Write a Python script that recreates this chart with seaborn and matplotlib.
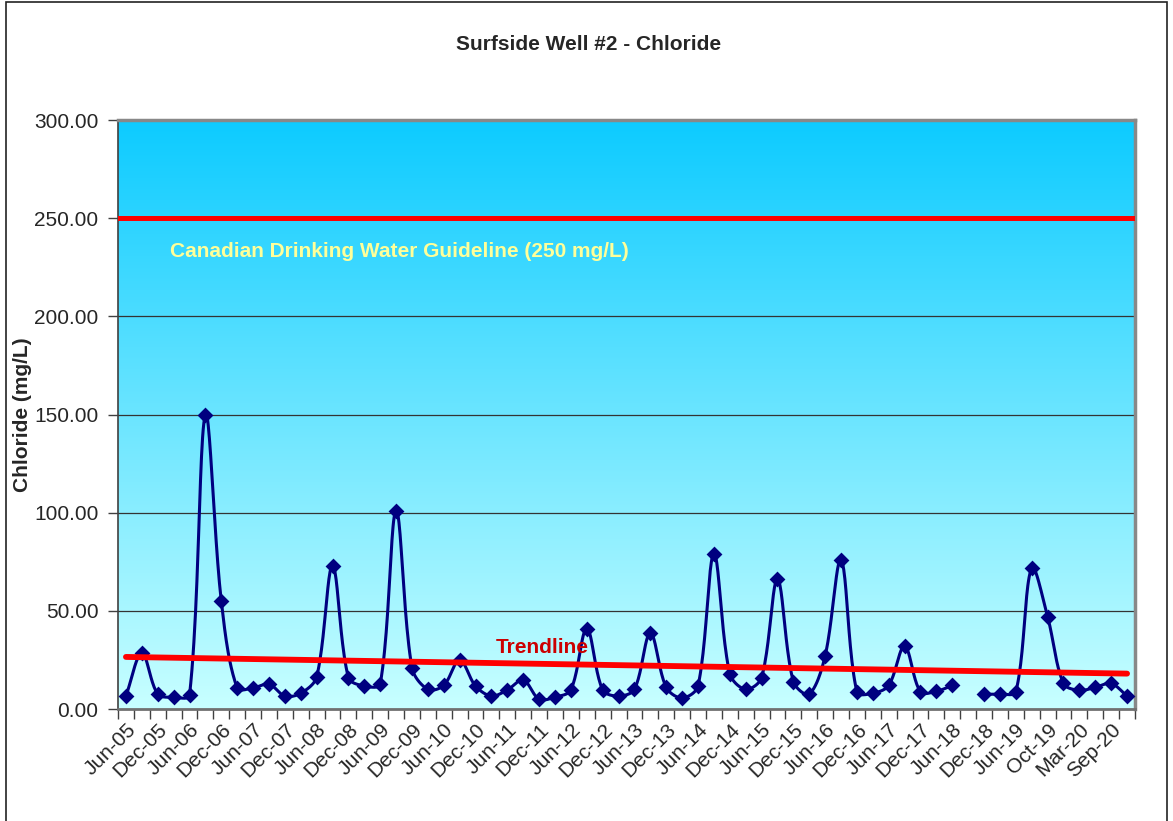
import numpy as np
import matplotlib
matplotlib.use("Agg")
import matplotlib.pyplot as plt
import seaborn as sns
from matplotlib.colors import LinearSegmentedColormap
from matplotlib.patches import Rectangle

# ---------------------------------------------
# data (quarterly samples)
# ---------------------------------------------
chloride = [6.6, 28.5, 7.6, 6.0, 7.0, 150.0, 55.0, 10.7, 10.7, 12.7,
            6.6, 8.0, 16.3, 73.0, 16.0, 11.7, 12.7, 101.0, 21.0, 10.0,
            12.0, 25.0, 11.7, 6.6, 9.7, 14.8, 5.0, 6.0, 9.7, 41.0,
            9.7, 6.6, 10.0, 38.7, 11.0, 5.6, 11.7, 79.0, 18.0, 10.0,
            16.0, 66.0, 14.0, 7.6, 27.0, 76.0, 8.7, 8.0, 12.0, 32.0,
            8.7, 9.0, 12.0, np.nan, 7.6, 7.6, 8.7, 72.0, 47.0, 13.0,
            9.5, 11.0, 13.0, 6.6]

tick_labels = ["Jun-05", "Dec-05", "Jun-06", "Dec-06", "Jun-07", "Dec-07",
               "Jun-08", "Dec-08", "Jun-09", "Dec-09", "Jun-10", "Dec-10",
               "Jun-11", "Dec-11", "Jun-12", "Dec-12", "Jun-13", "Dec-13",
               "Jun-14", "Dec-14", "Jun-15", "Dec-15", "Jun-16", "Dec-16",
               "Jun-17", "Dec-17", "Jun-18", "Dec-18", "Jun-19", "Oct-19",
               "Mar-20", "Sep-20"]

guideline = 250.0

y = np.array(chloride, dtype=float)
x = np.arange(len(y))

# pixel size of one unit on each axis, used to weight the smoothing
SX, SY = 15.9, 1.963


def smooth_segment(xs, ys, n=24):
    # bezier smoothing with chord-length tangents (close to excel's smoothed line)
    px = np.concatenate([[xs[0]], xs, [xs[-1]]]).astype(float)
    py = np.concatenate([[ys[0]], ys, [ys[-1]]]).astype(float)
    d = np.hypot(np.diff(px) * SX, np.diff(py) * SY)
    d[d == 0] = 1e-6
    t = np.linspace(0, 1, n)[:, None]
    out = []
    for i in range(1, len(px) - 2):
        p0 = np.array([px[i - 1], py[i - 1]])
        p1 = np.array([px[i], py[i]])
        p2 = np.array([px[i + 1], py[i + 1]])
        p3 = np.array([px[i + 2], py[i + 2]])
        c1 = p1 + (p2 - p0) * d[i] / (d[i - 1] + d[i]) / 3
        c2 = p2 - (p3 - p1) * d[i] / (d[i] + d[i + 1]) / 3
        seg = ((1 - t) ** 3 * p1 + 3 * (1 - t) ** 2 * t * c1
               + 3 * (1 - t) * t ** 2 * c2 + t ** 3 * p2)
        out.append(seg)
    out = np.vstack(out)
    return out[:, 0], out[:, 1]


# ---------------------------------------------
# figure
# ---------------------------------------------
sns.set_theme(style="white")
plt.rcParams["font.family"] = ["Liberation Sans", "DejaVu Sans"]

fig = plt.figure(figsize=(11.73, 8.21), dpi=100)
ax = fig.add_axes([118 / 1173, 1 - 709 / 821, (1135 - 118) / 1173, (709 - 120) / 821])

# gradient background
cmap = LinearSegmentedColormap.from_list("bg", ["#C8FFFF", "#0DCBFF"])
grad = np.linspace(0, 1, 256).reshape(-1, 1)
ax.imshow(grad, extent=[-0.5, len(y) - 0.5, 0, 300], origin="lower",
          aspect="auto", cmap=cmap, zorder=0)

# gridlines
for g in [50, 100, 150, 200]:
    ax.axhline(g, color="#333333", lw=0.9, zorder=1)

# guideline
ax.axhline(guideline, color="#FF0000", lw=3.6, zorder=3)
ax.text(2.75, 233, "Canadian Drinking Water Guideline (250 mg/L)",
        color="#FFFF99", fontsize=15, fontweight="bold", va="center", zorder=4)

# smoothed data line, broken at missing values
ok = ~np.isnan(y)
start = None
for i in range(len(y) + 1):
    if i < len(y) and ok[i]:
        if start is None:
            start = i
    elif start is not None:
        sx, sy = smooth_segment(x[start:i], y[start:i])
        ax.plot(sx, sy, color="#000080", lw=2.2, zorder=5)
        start = None

sns.scatterplot(x=x[ok], y=y[ok], marker="D", s=65, color="#000080",
                edgecolor="#000080", linewidth=0, ax=ax, zorder=6)

# linear trendline
k, b = np.polyfit(x[ok], y[ok], 1)
ax.plot([x[0], x[-1]], [k * x[0] + b, k * x[-1] + b], color="#FF0000",
        lw=4.2, solid_capstyle="round", zorder=7)
ax.text(23.3, 31.5, "Trendline", color="#CC0000", fontsize=15,
        fontweight="bold", va="center", zorder=8)

# axes
ax.set_xlim(-0.5, len(y) - 0.5)
ax.set_ylim(0, 300)
ax.set_yticks(np.arange(0, 301, 50))
ax.set_yticklabels([f"{v:.2f}" for v in np.arange(0, 301, 50)], fontsize=15)
ax.tick_params(axis="y", direction="out", length=7, width=1, color="#404040",
               pad=7, left=True)

ax.set_xticks(np.arange(0, len(y), 2))
ax.set_xticklabels(tick_labels, rotation=45, ha="right",
                   rotation_mode="anchor", fontsize=15)
ax.set_xticks(np.arange(-0.5, len(y), 1), minor=True)
ax.tick_params(axis="x", which="major", length=0, pad=8)
ax.tick_params(axis="x", which="minor", direction="out", length=7, width=1,
               color="#404040", bottom=True)

ax.set_ylabel("Chloride (mg/L)", fontsize=15, fontweight="bold")
ax.yaxis.set_label_coords((32 - 118) / 1017, 0.5)
ax.set_xlabel("")

for side in ["top", "right"]:
    ax.spines[side].set_color("#888888")
    ax.spines[side].set_linewidth(2.5)
ax.spines["left"].set_color("#404040")
ax.spines["left"].set_linewidth(1.2)
ax.spines["bottom"].set_color("#707070")
ax.spines["bottom"].set_linewidth(2.0)

fig.text(0.502, 1 - 45 / 821, "Surfside Well #2 - Chloride", ha="center",
         va="center", fontsize=15, fontweight="bold")

# outer chart border
fig.patches.append(Rectangle((6 / 1173, -0.05), (1167 - 6) / 1173, 1.05 - 2 / 821,
                             transform=fig.transFigure, fill=False,
                             edgecolor="#222222", lw=1.2))

fig.savefig("out.png", dpi=100)
